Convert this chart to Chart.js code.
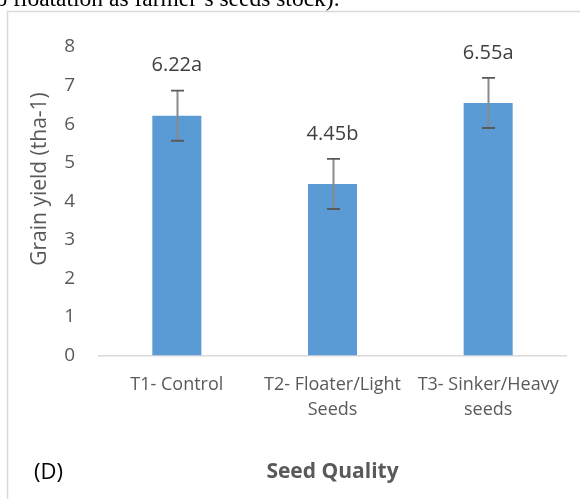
<!DOCTYPE html>
<html>
<head>
<meta charset="utf-8">
<script src="https://cdn.jsdelivr.net/npm/chart.js@4"></script>
<style>
  html, body { margin: 0; padding: 0; background: #ffffff; }
  #wrap { position: relative; width: 580px; height: 499px; overflow: hidden; }
  canvas { display: block; }
</style>
</head>
<body>
<div id="wrap"><canvas id="c" width="580" height="499"></canvas></div>
<script>
// ---- data ----
const categories = [['T1- Control'], ['T2- Floater/Light', 'Seeds'], ['T3- Sinker/Heavy', 'seeds']];
const grainYield = [6.22, 4.45, 6.55];
const errorValues = [0.65, 0.65, 0.65];
const letterLabels = ['6.22a', '4.45b', '6.55a'];
const yTicks = [0, 1, 2, 3, 4, 5, 6, 7, 8];
const yAxisTitle = 'Grain yield (tha-1)';
const xAxisTitle = 'Seed Quality';
const panelLabel = '(D)';
const captionText = 'o floatation as farmer\u2019s seeds stock).';

const GRAY = '#595959';
const FONT = '"Open Sans", "Noto Sans", sans-serif';

const decorPlugin = {
  id: 'decor',
  beforeDraw(chart) {
    const ctx = chart.ctx;
    ctx.save();
    // caption text (clipped at top)
    ctx.font = '23.5px "Liberation Serif", serif';
    ctx.fillStyle = '#000000';
    ctx.textBaseline = 'alphabetic';
    ctx.textAlign = 'left';
    ctx.fillText(captionText, -4.6, 6);
    // border box
    ctx.strokeStyle = '#d9d9d9';
    ctx.lineWidth = 1.5;
    ctx.beginPath();
    ctx.moveTo(7.5, 499);
    ctx.lineTo(7.5, 11.5);
    ctx.lineTo(580, 11.5);
    ctx.stroke();
    ctx.restore();
  },
  afterDraw(chart) {
    const ctx = chart.ctx;
    const area = chart.chartArea;
    ctx.save();
    // y axis title
    ctx.translate(40, 179);
    ctx.rotate(-Math.PI / 2);
    ctx.font = '21px ' + FONT;
    ctx.fillStyle = GRAY;
    ctx.textAlign = 'center';
    ctx.textBaseline = 'middle';
    ctx.fillText(yAxisTitle, 0, 0);
    ctx.restore();
    ctx.save();
    ctx.font = '22px ' + FONT;
    ctx.fillStyle = '#000000';
    ctx.textAlign = 'left';
    ctx.textBaseline = 'middle';
    ctx.fillText(panelLabel, 34, 473);
    ctx.restore();
  }
};

const errorBarPlugin = {
  id: 'errorBars',
  afterDatasetsDraw(chart) {
    const ctx = chart.ctx;
    const meta = chart.getDatasetMeta(0);
    const yScale = chart.scales.y;
    ctx.save();
    meta.data.forEach((bar, i) => {
      const v = grainYield[i];
      const e = errorValues[i];
      const yTop = yScale.getPixelForValue(v + e);
      const yBot = yScale.getPixelForValue(v - e);
      const x = Math.round(bar.x) + 0.5;
      ctx.strokeStyle = '#8a8a8a';
      ctx.lineWidth = 2;
      ctx.beginPath();
      ctx.moveTo(x, yTop);
      ctx.lineTo(x, yBot);
      ctx.stroke();
      ctx.strokeStyle = GRAY;
      ctx.lineWidth = 1.8;
      ctx.beginPath();
      ctx.moveTo(x - 6.5, yTop);
      ctx.lineTo(x + 6.5, yTop);
      ctx.moveTo(x - 6.5, yBot);
      ctx.lineTo(x + 6.5, yBot);
      ctx.stroke();
      // value label
      ctx.font = '20px ' + FONT;
      ctx.fillStyle = '#404040';
      ctx.textAlign = 'center';
      ctx.textBaseline = 'middle';
      ctx.fillText(letterLabels[i], bar.x, bar.y - 50);
    });
    ctx.restore();
  }
};

new Chart(document.getElementById('c'), {
  type: 'bar',
  data: {
    labels: categories,
    datasets: [{
      data: grainYield,
      backgroundColor: '#5b9bd5',
      borderWidth: 0,
      barPercentage: 0.63,
      categoryPercentage: 0.5
    }]
  },
  options: {
    responsive: false,
    animation: false,
    devicePixelRatio: 1,
    layout: { padding: { top: 47, right: 14, left: 0, bottom: 0 } },
    plugins: { legend: { display: false }, tooltip: { enabled: false } },
    scales: {
      y: {
        min: 0, max: 8,
        afterBuildTicks(scale) { scale.ticks = yTicks.map(v => ({ value: v })); },
        afterFit(scale) { scale.width = 99; },
        grid: { display: false, drawTicks: false },
        border: { display: false },
        ticks: { color: GRAY, font: { family: FONT, size: 19 }, padding: 24 }
      },
      x: {
        afterFit(scale) { scale.height = 143.4; },
        grid: { display: false, drawTicks: false },
        border: { display: true, color: '#d9d9d9', width: 1.5 },
        ticks: { color: GRAY, font: { family: FONT, size: 18, lineHeight: 1.39 }, padding: 17, maxRotation: 0, autoSkip: false },
        title: {
          display: true, text: xAxisTitle, color: GRAY,
          font: { family: FONT, size: 21, weight: 'bold', lineHeight: 1.2 },
          padding: { top: 0, bottom: 14 }
        }
      }
    }
  },
  plugins: [decorPlugin, errorBarPlugin]
});
</script>
</body>
</html>
